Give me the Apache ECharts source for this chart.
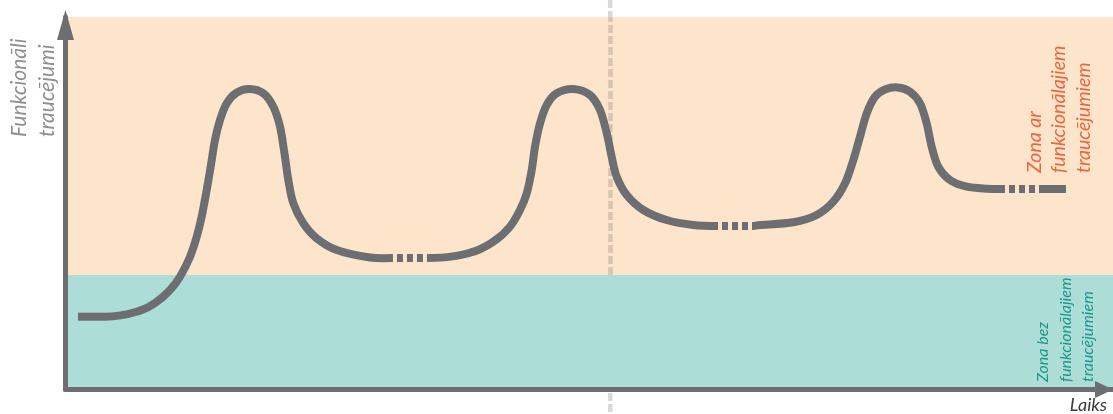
<!DOCTYPE html>
<html><head><meta charset="utf-8">
<script src="https://cdn.jsdelivr.net/npm/echarts@6/dist/echarts.min.js"></script>
<style>html,body{margin:0;padding:0;background:#fff}#c{width:1113px;height:414px}</style>
</head><body><div id="c"></div>
<script>
// Units: x = time (0..100), y = level of functional impairment (0..100)
const zoneBoundary = 30.74;   // border between "bez" and "ar" zones
const dividerX = 52;          // vertical dashed divider
// solid pieces of the curve
const flatStart = [[1.19,19.54],[3.77,19.54]];
const curveA = [[3.77,19.54],[7.11,21.15],[8.71,23.57],[9.98,26.71],[10.93,30.28],[11.89,35.65],[12.53,41.02],[13.00,46.39],[13.48,53.56],[13.86,59.81],[14.27,66.98],[14.75,72.35],[15.39,76.83],[16.34,79.68],[17.55,80.67],[18.88,79.52],[19.84,75.92],[20.48,70.55],[20.95,62.50],[21.27,56.24],[21.75,49.99],[22.70,44.62],[23.98,40.59],[25.89,37.45],[29.07,35.45],[31.26,35.3]];
const curveB = [[34.61,35.3],[38.62,36.72],[40.84,39.68],[42.43,43.70],[43.39,48.19],[44.03,52.67],[44.51,58.93],[44.82,65.18],[45.30,71.46],[45.94,76.38],[46.89,79.52],[48.48,80.67],[50.07,79.06],[51.03,75.03],[51.67,68.78],[52.14,62.50],[52.62,57.13],[53.58,52.21],[55.16,48.19],[57.39,45.50],[59.93,44.16],[62.29,43.89]];
const curveC = [[65.63,43.89],[66.30,44.16],[69.48,44.89],[71.71,46.85],[73.30,50.42],[74.42,55.36],[75.21,61.61],[75.85,67.87],[76.49,74.15],[77.28,78.60],[78.23,80.55],[79.45,81.10],[80.62,79.95],[81.58,76.83],[82.21,71.46],[82.69,65.18],[83.32,59.81],[84.44,56.24],[86.03,54.44],[87.94,53.91],[89.69,53.83]];
const curveD = [[93.22,53.83],[95.51,53.83]];
// dotted (interrupted) pieces
const gapA = [[31.26,35.3],[34.61,35.3]];
const gapB = [[62.29,43.89],[65.63,43.89]];
const gapC = [[89.69,53.83],[93.22,53.83]];

const yTitle = ['Funkcionāli', 'traucējumi'];
const zoneArLabel = ['Zona ar', 'funkcionālajiem', 'traucējumiem'];
const zoneBezLabel = ['Zona bez', 'funkcionālajiem', 'traucējumiem'];
const xTitle = 'Laiks';

const GRAY = '#6D6E71';
const chart = echarts.init(document.getElementById('c'), null, {renderer: 'canvas'});

// smooth (Catmull-Rom) curve through the data points, placed with the chart's own axes (api.coord);
// both ends leave horizontally, like the original drawing
function solid(pts) {
  return {type: 'custom', coordinateSystem: 'cartesian2d', z: 10, silent: true, clip: false,
    data: [pts[0]],
    renderItem(params, api) {
      const p = pts.map(d => api.coord(d));
      const n = p.length;
      const tan = p.map((pt, i) => {
        if (i === 0) return [(p[1][0] - pt[0]) * 1.5, 0];
        if (i === n - 1) return [(pt[0] - p[n - 2][0]) * 1.5, 0];
        return [(p[i + 1][0] - p[i - 1][0]) / 2, (p[i + 1][1] - p[i - 1][1]) / 2];
      });
      let d = 'M' + p[0][0] + ',' + p[0][1];
      for (let i = 0; i < n - 1; i++) {
        const c1x = p[i][0] + tan[i][0] / 3, c1y = p[i][1] + tan[i][1] / 3;
        const c2x = p[i + 1][0] - tan[i + 1][0] / 3, c2y = p[i + 1][1] - tan[i + 1][1] / 3;
        d += ' C' + c1x + ',' + c1y + ' ' + c2x + ',' + c2y + ' ' + p[i + 1][0] + ',' + p[i + 1][1];
      }
      return {type: 'path', shape: {pathData: d},
        style: {fill: 'none', stroke: GRAY, lineWidth: 8, lineCap: 'butt', lineJoin: 'round'}};
    }};
}
function dotted(data) {
  return {type: 'line', data, showSymbol: false, silent: true, z: 10,
    lineStyle: {color: GRAY, width: 8, type: [6, 4], dashOffset: 6}};
}

const axisLineCommon = {show: true, onZero: true, lineStyle: {color: GRAY, width: 5}};

chart.setOption({
  animation: false,
  grid: {left: 65.5, right: 0, top: 17, bottom: 24.5},
  xAxis: {type: 'value', min: 0, max: 100, z: 20,
    axisLine: Object.assign({}, axisLineCommon, {symbol: ['none', 'triangle'], symbolSize: [17, 18], symbolOffset: [0, -9]}),
    axisTick: {show: false}, axisLabel: {show: false}, splitLine: {show: false}},
  yAxis: {type: 'value', min: 0, max: 100, z: 20,
    axisLine: Object.assign({}, axisLineCommon, {symbol: ['none', 'triangle'], symbolSize: [17, 30], symbolOffset: [0, -8]}),
    axisTick: {show: false}, axisLabel: {show: false}, splitLine: {show: false}},
  series: [
    {type: 'line', data: [], z: 1, silent: true,
      markArea: {silent: true, z: 1, itemStyle: {color: '#FDE5CC'}, data: [
        [{yAxis: zoneBoundary}, {yAxis: 100}]]},
      markLine: {silent: true, z: 2, symbol: ['none', 'none'], label: {show: false},
        lineStyle: {color: 'rgba(0,0,0,0.14)', width: 4.5, type: [8, 3]},
        data: [[{coord: [dividerX, zoneBoundary]}, {coord: [dividerX, 100]}]]}},
    {type: 'line', data: [], z: 1, silent: true,
      markArea: {silent: true, z: 1, itemStyle: {color: '#ACDDD6'}, data: [[{yAxis: 0}, {yAxis: zoneBoundary}]]}},
    solid(flatStart), solid(curveA), dotted(gapA), solid(curveB), dotted(gapB),
    solid(curveC), dotted(gapC), solid(curveD)
  ]
});

const dx = chart.convertToPixel({gridIndex: 0}, [dividerX, 0])[0];
const gTop = chart.convertToPixel({gridIndex: 0}, [0, 100])[1];
const gBot = chart.convertToPixel({gridIndex: 0}, [0, 0])[1];

chart.setOption({
  graphic: [
    {type: 'line', silent: true, z: 1, shape: {x1: dx, y1: 0, x2: dx, y2: gTop},
      style: {stroke: 'rgba(0,0,0,0.15)', lineWidth: 4.5, lineDash: [8, 3]}},
    {type: 'line', silent: true, z: 1, shape: {x1: dx, y1: gBot + 3.5, x2: dx, y2: 414},
      style: {stroke: 'rgba(0,0,0,0.15)', lineWidth: 4.5, lineDash: [8, 3]}},
    {type: 'text', silent: true, z: 100, x: 5, y: 137, rotation: Math.PI / 2,
      style: {text: yTitle.join('\n'), font: 'italic 21px Lato', fill: '#8F8F8F', align: 'left', verticalAlign: 'top', lineHeight: 28}},
    {type: 'text', silent: true, z: 100, x: 1022, y: 173, rotation: Math.PI / 2,
      style: {text: zoneArLabel.join('\n'), font: 'italic 19.5px Lato', fill: '#F0643A', align: 'left', verticalAlign: 'top', lineHeight: 24.5}},
    {type: 'text', silent: true, z: 100, x: 1032, y: 382, rotation: Math.PI / 2,
      style: {text: zoneBezLabel.join('\n'), font: 'italic 16px Lato', fill: '#1B968B', align: 'left', verticalAlign: 'top', lineHeight: 22.5}},
    {type: 'text', silent: true, z: 100, x: 1107, y: 414,
      style: {text: xTitle, font: 'italic 18px Lato', fill: '#3A3A3A', align: 'right', verticalAlign: 'bottom'}}
  ]
});
</script>
</body></html>
